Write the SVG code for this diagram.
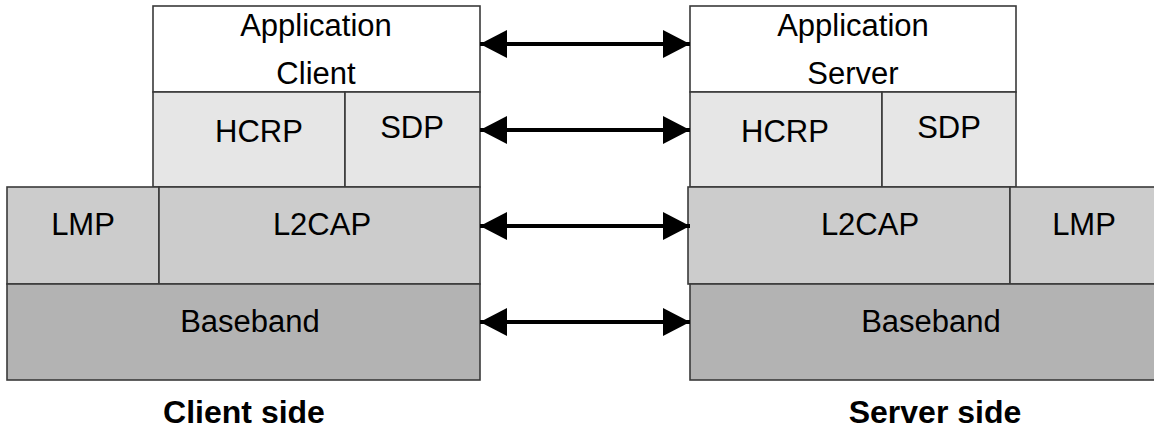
<svg xmlns="http://www.w3.org/2000/svg" width="1154" height="432" viewBox="0 0 1154 432">
<style>
.b{stroke:#3a3a3a;stroke-width:1.6}
.w{fill:#ffffff}.l1{fill:#e6e6e6}.l2{fill:#cccccc}.l3{fill:#b3b3b3}
text{font-family:"Liberation Sans",Arial,sans-serif;font-size:31px;fill:#000;text-anchor:middle}
.cap{font-weight:bold;font-size:32px}
.c{stroke:#000;stroke-width:4;fill:none;marker-start:url(#ah);marker-end:url(#ah)}
</style>
<defs>
<marker id="ah" viewBox="0 0 27 28" refX="27" refY="14" markerWidth="27" markerHeight="28" markerUnits="userSpaceOnUse" orient="auto-start-reverse">
<path d="M0,0 L27,14 L0,28 Z" fill="#000"/>
</marker>
</defs>
<g id="client-application"><rect class="b w" x="153" y="6" width="327" height="86"/><text x="316" y="36">Application</text><text x="316" y="84">Client</text></g>
<g id="client-hcrp"><rect class="b l1" x="153" y="92" width="192" height="95"/><text x="259" y="142">HCRP</text></g>
<g id="client-sdp"><rect class="b l1" x="345" y="92" width="135" height="95"/><text x="412" y="138">SDP</text></g>
<g id="client-lmp"><rect class="b l2" x="7" y="187" width="152" height="97"/><text x="83" y="235">LMP</text></g>
<g id="client-l2cap"><rect class="b l2" x="159" y="187" width="321" height="97"/><text x="322" y="235">L2CAP</text></g>
<g id="client-baseband"><rect class="b l3" x="7" y="284" width="473" height="96"/><text x="250" y="332">Baseband</text></g>
<g id="client-label"><text class="cap" x="244" y="423">Client side</text></g>

<g id="server-application"><rect class="b w" x="690" y="6" width="326" height="86"/><text x="853" y="36">Application</text><text x="853" y="84">Server</text></g>
<g id="server-hcrp"><rect class="b l1" x="690" y="92" width="192" height="95"/><text x="785" y="142">HCRP</text></g>
<g id="server-sdp"><rect class="b l1" x="882" y="92" width="134" height="95"/><text x="949" y="138">SDP</text></g>
<g id="server-l2cap"><rect class="b l2" x="688" y="187" width="322" height="97"/><text x="870" y="235">L2CAP</text></g>
<g id="server-lmp"><rect class="b l2" x="1010" y="187" width="150" height="97"/><text x="1084" y="235">LMP</text></g>
<g id="server-baseband"><rect class="b l3" x="690" y="284" width="470" height="96"/><text x="931" y="332">Baseband</text></g>
<g id="server-label"><text class="cap" x="935" y="423">Server side</text></g>

<g id="connectors">
<line class="c" x1="480" y1="44" x2="690" y2="44"/>
<line class="c" x1="480" y1="130" x2="690" y2="130"/>
<line class="c" x1="480" y1="226" x2="690" y2="226"/>
<line class="c" x1="480" y1="322" x2="690" y2="322"/>
</g>
</svg>
